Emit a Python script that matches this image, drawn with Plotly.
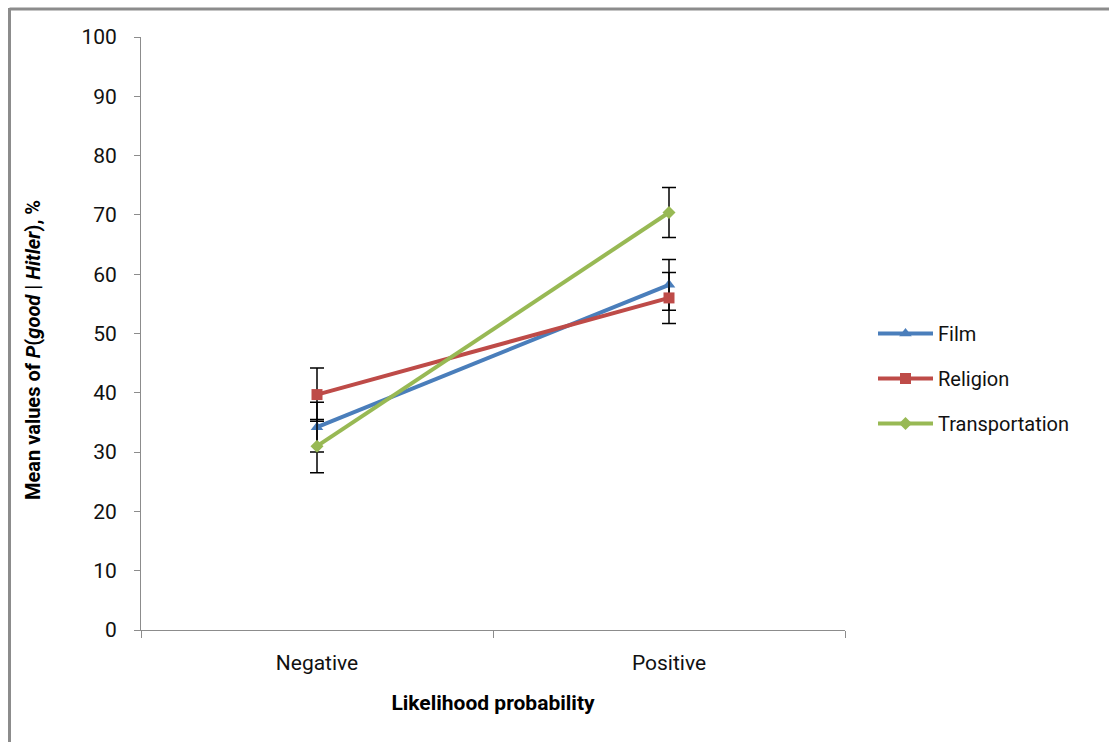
import plotly.graph_objects as go

categories = ["Negative", "Positive"]
series_names = ["Film", "Religion", "Transportation"]
film = [34.2, 58.2]
religion = [39.7, 56.0]
transportation = [31.0, 70.4]
film_err = [4.2, 4.3]
religion_err = [4.5, 4.3]
transportation_err = [4.5, 4.2]
y_ticks = [0, 10, 20, 30, 40, 50, 60, 70, 80, 90, 100]

colors = ["#4A7EBB", "#BE4B48", "#98B954"]
symbols = ["triangle-up", "square", "diamond"]
values = [film, religion, transportation]
errors = [film_err, religion_err, transportation_err]

FONT = "Liberation Sans Narrow, Roboto, sans-serif"

fig = go.Figure()
for i, name in enumerate(series_names):
    fig.add_trace(go.Scatter(
        x=categories, y=values[i], name=name, mode="lines+markers",
        legendgroup=name,
        line=dict(color=colors[i], width=4),
        marker=dict(symbol=symbols[i], size=11 if i != 2 else 10, color=colors[i]),
        error_y=dict(type="data", array=errors[i], visible=True,
                     color="black", thickness=1.5, width=7),
    ))

L, T = 141, 37
W, H = 704, 593
def px(xp):
    return (xp - L) / W
def py(yp):
    return (T + H - yp) / H

border = "#8C8C8C"
fig.add_shape(type="line", xref="paper", yref="paper",
              x0=px(9.5), x1=px(1115), y0=py(9), y1=py(9),
              line=dict(color=border, width=3))
fig.add_shape(type="line", xref="paper", yref="paper",
              x0=px(9.5), x1=px(9.5), y0=py(8), y1=py(750),
              line=dict(color=border, width=3))

fig.add_annotation(
    xref="paper", yref="paper", x=px(33), y=py(350),
    xanchor="center", yanchor="middle", textangle=-90, showarrow=False,
    text="<b>Mean values of <i>P</i>(<i>good</i> | <i>Hitler</i>), %</b>",
    font=dict(size=20, family=FONT, color="black"),
)

fig.update_layout(
    width=1109, height=742,
    margin=dict(l=L, r=1109 - L - W, t=T, b=742 - T - H, autoexpand=False),
    paper_bgcolor="white", plot_bgcolor="white",
    font=dict(family=FONT, size=20, color="black"),
    showlegend=True,
    legend=dict(x=px(873), y=py(314), xanchor="left", yanchor="top",
                font=dict(size=20, family=FONT, color="#111111"), tracegroupgap=16,
                itemwidth=55, bgcolor="rgba(0,0,0,0)"),
    xaxis=dict(
        type="category", range=[-0.5, 1.5],
        showline=True, linecolor="#8C8C8C", linewidth=1,
        ticks="outside", tickson="boundaries", ticklen=7, tickcolor="#8C8C8C",
        showgrid=False, zeroline=False,
        tickfont=dict(size=21, family=FONT, color="#111111"), ticklabelstandoff=14,
        title=dict(text="<b>Likelihood probability</b>", font=dict(size=21, family=FONT), standoff=21),
    ),
    yaxis=dict(
        range=[0, 100], tickvals=y_ticks,
        showline=True, linecolor="#8C8C8C", linewidth=1,
        ticks="outside", ticklen=6, tickcolor="#8C8C8C",
        showgrid=False, zeroline=False,
        tickfont=dict(size=21, family=FONT, color="#111111"), ticklabelstandoff=13,
    ),
)

fig.write_html("out.html")
